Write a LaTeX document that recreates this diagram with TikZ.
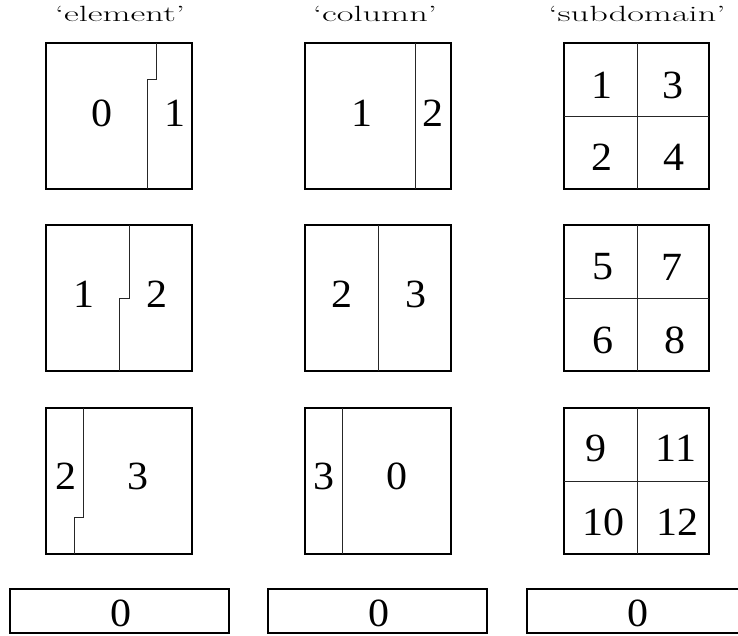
\documentclass[tikz,border=0pt]{standalone}
\usepackage{graphicx}
\usepackage{fontspec}
\newfontfamily\digfont{Liberation Serif}
\newcommand\dgtext[1]{\scalebox{1.05}[1]{#1}}
\newcommand\ttltext[1]{\scalebox{1.65}[1]{#1}}
\begin{document}
\begin{tikzpicture}[x=1pt,y=-1pt,
  outer/.style={draw=black,line width=1.7pt},
  inner/.style={draw=black!85,line width=0.8pt},
  dig/.style={inner sep=0pt,font=\digfont\fontsize{40}{40}\selectfont},
  ttl/.style={inner sep=0pt,anchor=base,font=\fontsize{22}{22}\selectfont}]
\useasboundingbox (0,0) rectangle (738,635);
\clip (0,0) rectangle (738,635);
% titles
\node[ttl] (t1) at (120,21.5) {\ttltext{`element'}};
\node[ttl] (t2) at (375,21.5) {\ttltext{`column'}};
\node[ttl] (t3) at (637,21.5) {\ttltext{`subdomain'}};
% element column
\foreach \t in {43,225,408} {\draw[outer] (46,\t) rectangle (192,\t+146);}
\draw[inner] (156,43) -- (156,79) -- (147,79) -- (147,189);
\draw[inner] (129,225) -- (129,298) -- (119,298) -- (119,371);
\draw[inner] (83,408) -- (83,517) -- (74,517) -- (74,554);
\node[dig] (e10) at (102,113) {\dgtext{0}};
\node[dig] (e11) at (175,113) {\dgtext{1}};
\node[dig] (e21) at (84,294) {\dgtext{1}};
\node[dig] (e22) at (157,294) {\dgtext{2}};
\node[dig] (e32) at (66,476) {\dgtext{2}};
\node[dig] (e33) at (138,476) {\dgtext{3}};
% column column
\foreach \t in {43,225,408} {\draw[outer] (305,\t) rectangle (451,\t+146);}
\draw[inner] (415,43) -- (415,189);
\draw[inner] (378,225) -- (378,371);
\draw[inner] (342,408) -- (342,554);
\node[dig] (c11) at (362,113) {\dgtext{1}};
\node[dig] (c12) at (433,113) {\dgtext{2}};
\node[dig] (c22) at (342,294) {\dgtext{2}};
\node[dig] (c23) at (416,294) {\dgtext{3}};
\node[dig] (c33) at (324,476) {\dgtext{3}};
\node[dig] (c30) at (397,476) {\dgtext{0}};
% subdomain column
\foreach \t in {43,225,408} {
  \draw[outer] (564,\t) rectangle (709,\t+146);
  \draw[inner] (637,\t) -- (637,\t+146);
  \draw[inner] (564,\t+73) -- (709,\t+73);
}
\node[dig] (s1) at (602,85) {\dgtext{1}};
\node[dig] (s3) at (673,85) {\dgtext{3}};
\node[dig] (s2) at (602,157) {\dgtext{2}};
\node[dig] (s4) at (674,157) {\dgtext{4}};
\node[dig] (s5) at (603,267) {\dgtext{5}};
\node[dig] (s7) at (672,267) {\dgtext{7}};
\node[dig] (s6) at (603,340) {\dgtext{6}};
\node[dig] (s8) at (675,340) {\dgtext{8}};
\node[dig] (s9) at (596,448) {\dgtext{9}};
\node[dig] (s11) at (676,448) {\dgtext{11}};
\node[dig] (s10) at (603,522) {\dgtext{10}};
\node[dig] (s12) at (677,522) {\dgtext{12}};
% bottom bars
\draw[outer] (10,589) rectangle (229,633);
\draw[outer] (268,589) rectangle (487,633);
\draw[outer] (527,589) rectangle (746,633);
\node[dig] (b1) at (121,613) {\dgtext{0}};
\node[dig] (b2) at (379,613) {\dgtext{0}};
\node[dig] (b3) at (638,613) {\dgtext{0}};
\end{tikzpicture}
\end{document}
